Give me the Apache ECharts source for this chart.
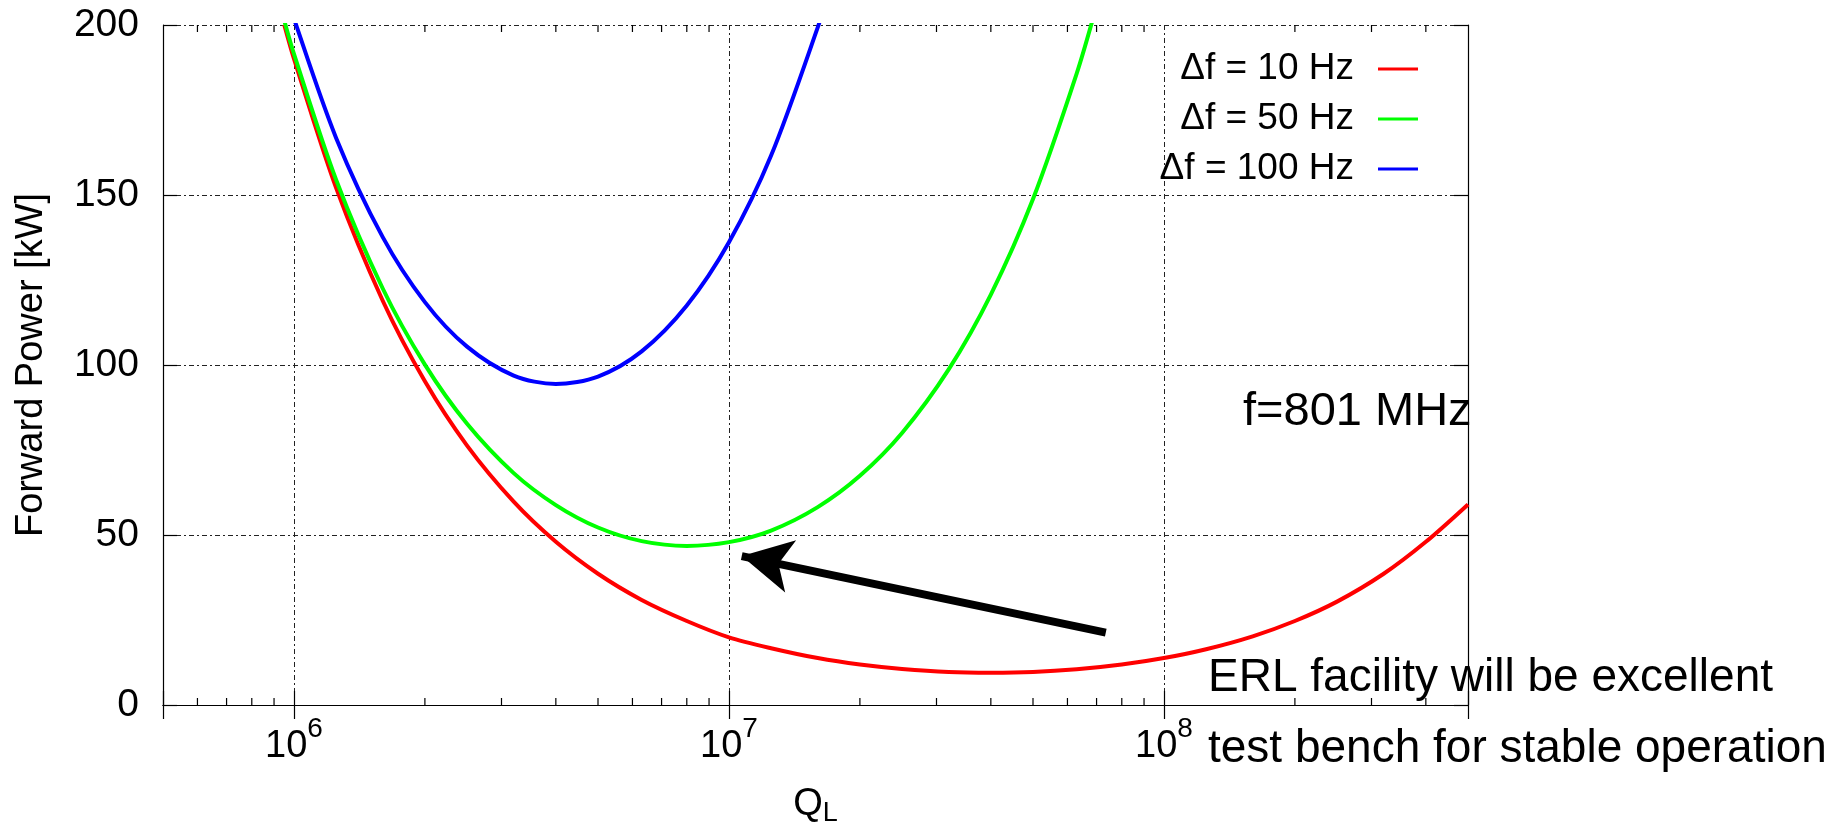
<!DOCTYPE html>
<html>
<head>
<meta charset="utf-8">
<title>Forward Power vs Q_L</title>
<script src="https://cdn.jsdelivr.net/npm/echarts@6/dist/echarts.min.js"></script>
<style>
  html, body { margin: 0; padding: 0; background: #fff; }
  #chart { width: 1844px; height: 822px; }
</style>
</head>
<body>
<div id="chart"></div>
<script>
// Q_L on x, forward power [kW] on y
const redQ = [9.5e5, 1e6, 1.25e6, 1.6e6, 2e6, 2.5e6, 3.2e6, 4e6, 5e6, 6.3e6, 8e6, 1e7, 1.25e7, 1.6e7, 2e7, 2.5e7, 3.2e7, 4e7, 5e7, 6.3e7, 8e7, 1e8, 1.25e8, 1.6e8, 2e8, 2.5e8, 3.2e8, 4e8, 5e8];
const redP = [200.1, 190.1, 152.1, 118.9, 95.2, 76.3, 59.8, 48.0, 38.6, 30.9, 24.7, 19.9, 16.7, 13.8, 11.9, 10.6, 9.7, 9.5, 9.7, 10.5, 11.9, 13.8, 16.4, 20.2, 24.7, 30.4, 38.6, 48.0, 59.0];

const greenQ = [9.5e5, 1e6, 1.25e6, 1.6e6, 2e6, 2.5e6, 3.2e6, 4e6, 5e6, 6.3e6, 8e6, 1e7, 1.25e7, 1.6e7, 2e7, 2.5e7, 3.2e7, 4e7, 5e7, 6.3e7, 7e7];
const greenP = [201.3, 191.5, 154.5, 122.5, 100.1, 82.7, 68.2, 58.8, 52.2, 48.2, 46.8, 47.9, 51.3, 58.2, 67.4, 80.0, 98.7, 120.7, 148.8, 185.7, 205.7];

const blueQ = [9.5e5, 1e6, 1.25e6, 1.6e6, 2e6, 2.5e6, 3.2e6, 4e6, 5e6, 6.3e6, 8e6, 1e7, 1.25e7, 1.6e7, 1.7e7];
const blueP = [211.3, 201.9, 166.8, 137.6, 118.5, 105.4, 96.9, 94.4, 96.6, 104.0, 117.5, 136.1, 161.6, 199.3, 210.3];

const seriesNames = ["Δf = 10 Hz", "Δf = 50 Hz", "Δf = 100 Hz"];
const seriesColors = ["#ff0000", "#00ff00", "#0000ff"];

// minor ticks of the log axis (2..9 per decade)
const minorQ = [6e5, 7e5, 8e5, 9e5, 2e6, 3e6, 4e6, 5e6, 6e6, 7e6, 8e6, 9e6, 2e7, 3e7, 4e7, 5e7, 6e7, 7e7, 8e7, 9e7, 2e8, 3e8, 4e8];

// arrow, tail -> head (data coords)
const arrowFrom = [7.35e7, 21.3];
const arrowTo = [1.07e7, 43.8];

const font = "Liberation Sans";

function pairs(xs, ys) {
  return xs.map((x, i) => [x, ys[i]]);
}

function lineSeries(name, color, xs, ys) {
  return {
    name: name,
    type: "line",
    data: pairs(xs, ys),
    symbol: "none",
    smooth: 0.3,
    clip: true,
    z: 4,
    lineStyle: { width: 4, color: color },
    itemStyle: { color: color },
    emphasis: { disabled: true }
  };
}

const series = [
  lineSeries(seriesNames[0], seriesColors[0], redQ, redP),
  lineSeries(seriesNames[1], seriesColors[1], greenQ, greenP),
  lineSeries(seriesNames[2], seriesColors[2], blueQ, blueP)
];

series[0].markLine = {
  silent: true,
  animation: false,
  symbol: ["none", "arrow"],
  symbolSize: [40, 50],
  label: { show: false },
  lineStyle: { color: "#000", width: 8, type: "solid" },
  emphasis: { disabled: true },
  data: [[{ coord: arrowFrom }, { coord: arrowTo }]]
};

series.push({
  type: "custom",
  silent: true,
  z: 5,
  data: minorQ.map(q => [q, 0]),
  encode: { x: 0, y: 1 },
  renderItem: function (params, api) {
    const q = api.value(0);
    const bot = api.coord([q, 0]);
    const top = api.coord([q, 200]);
    return {
      type: "group",
      children: [
        { type: "line", shape: { x1: bot[0], y1: bot[1], x2: bot[0], y2: bot[1] - 7 }, style: { stroke: "#000", lineWidth: 1.2 } },
        { type: "line", shape: { x1: top[0], y1: top[1], x2: top[0], y2: top[1] + 7 }, style: { stroke: "#000", lineWidth: 1.2 } }
      ]
    };
  }
});

const gridDash = { color: "#222", width: 1, type: [5, 3, 2, 3] };

const option = {
  animation: false,
  backgroundColor: "#fff",
  grid: { left: 163, top: 25, width: 1305, height: 680, outerBoundsMode: "none" },
  legend: {
    data: seriesNames.map((n, i) => ({ name: n, icon: "rect", itemStyle: { color: seriesColors[i] } })),
    orient: "vertical",
    align: "right",
    right: 421,
    top: 44,
    itemWidth: 40,
    itemHeight: 3,
    itemGap: 10,
    selectedMode: false,
    textStyle: { fontFamily: font, fontSize: 37, color: "#000", lineHeight: 40, padding: [0, 19, 0, 0] }
  },
  xAxis: [
    {
      type: "log",
      logBase: 10,
      min: 5e5,
      max: 5e8,
      name: "{q|Q}{l|L}",
      nameLocation: "middle",
      nameGap: 77,
      nameTextStyle: {
        rich: {
          q: { fontFamily: font, fontSize: 38, color: "#000", lineHeight: 40 },
          l: { fontFamily: font, fontSize: 27, color: "#000", padding: [18, 0, 0, 0] }
        }
      },
      axisLine: { show: true, lineStyle: { color: "#000", width: 1.2 } },
      axisTick: { show: true, inside: true, length: 14, lineStyle: { color: "#000", width: 1.2 } },
      splitLine: { show: true, lineStyle: gridDash },
      axisLabel: {
        margin: 10,
        interval: 0,
        formatter: function (v) {
          const e = Math.log10(v);
          if (Math.abs(e - Math.round(e)) > 1e-6) return "";
          return "{b|10}{s|" + Math.round(e) + "}";
        },
        rich: {
          b: { fontFamily: font, fontSize: 38, color: "#000", lineHeight: 44 },
          s: { fontFamily: font, fontSize: 28, color: "#000", padding: [0, 0, 36, 0] }
        }
      }
    },
    {
      type: "log",
      logBase: 10,
      min: 5e5,
      max: 5e8,
      position: "top",
      axisLine: { show: true, lineStyle: { color: "#000", width: 1.2 } },
      axisTick: { show: true, inside: true, length: 14, lineStyle: { color: "#000", width: 1.2 } },
      axisLabel: { show: false },
      splitLine: { show: false }
    }
  ],
  yAxis: [
    {
      type: "value",
      min: 0,
      max: 200,
      interval: 50,
      name: "Forward Power [kW]",
      nameLocation: "middle",
      nameGap: 112,
      nameRotate: 90,
      nameTextStyle: { fontFamily: font, fontSize: 38, color: "#000" },
      axisLine: { show: true, lineStyle: { color: "#000", width: 1.2 } },
      axisTick: { show: true, inside: true, length: 14, lineStyle: { color: "#000", width: 1.2 } },
      splitLine: { show: true, lineStyle: gridDash },
      axisLabel: { margin: 24, fontFamily: font, fontSize: 39, color: "#000" }
    },
    {
      type: "value",
      min: 0,
      max: 200,
      interval: 50,
      position: "right",
      axisLine: { show: true, lineStyle: { color: "#000", width: 1.2 } },
      axisTick: { show: true, inside: true, length: 14, lineStyle: { color: "#000", width: 1.2 } },
      axisLabel: { show: false },
      splitLine: { show: false }
    }
  ],
  graphic: [
    {
      type: "text", x: 1243, y: 412, z: 10, silent: true,
      style: { text: "f=801 MHz", font: '47px "' + font + '"', fill: "#000", align: "left", verticalAlign: "middle" }
    },
    {
      type: "text", x: 1208, y: 678, z: 10, silent: true,
      style: { text: "ERL facility will be excellent", font: '46px "' + font + '"', fill: "#000", align: "left", verticalAlign: "middle" }
    },
    {
      type: "text", x: 1208, y: 749, z: 10, silent: true,
      style: { text: "test bench for stable operation", font: '46px "' + font + '"', fill: "#000", align: "left", verticalAlign: "middle" }
    }
  ],
  series: series
};

const chart = echarts.init(document.getElementById("chart"));
chart.setOption(option);
</script>
</body>
</html>
